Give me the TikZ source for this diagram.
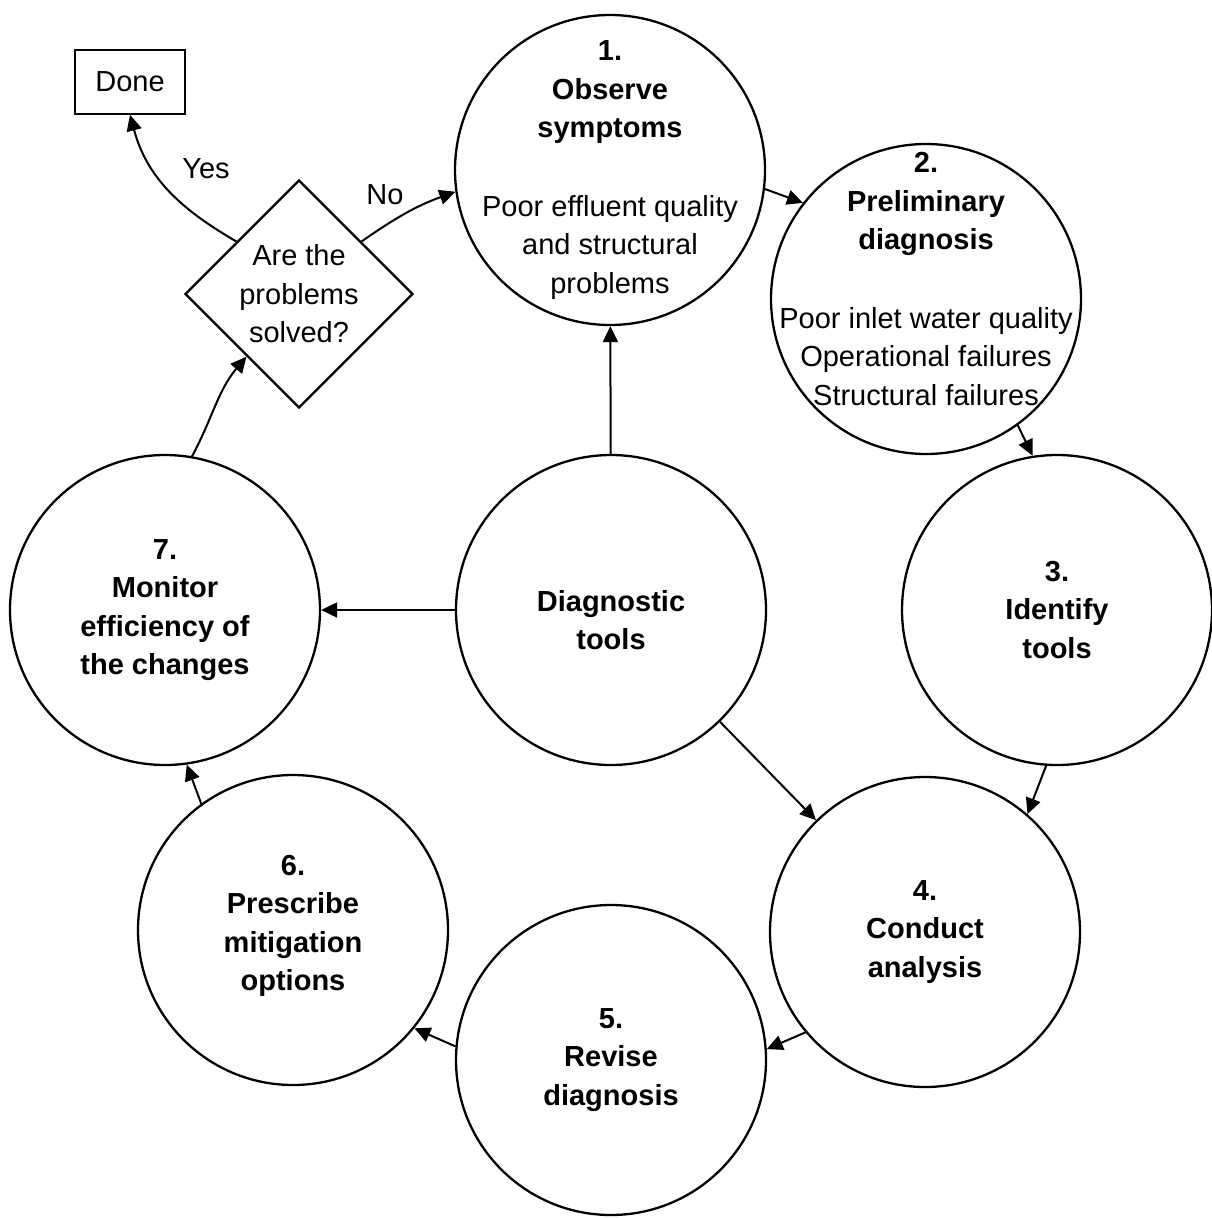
\documentclass[tikz,border=0pt]{standalone}
\usepackage{fontspec}
\setmainfont{Liberation Sans}
\usetikzlibrary{arrows.meta,shapes.geometric}
\tikzset{
    stage/.style={circle,draw=black,line width=2.3pt, minimum size=310pt, inner sep=0},
    stagetext/.style={align=center, inner sep=0},
    decision/.style={diamond,draw=black,line width=2.3pt, minimum width=228pt, minimum height=228pt, inner sep=0, align=center},
    endbox/.style={rectangle,draw=black,line width=1.5pt, minimum width=110pt, minimum height=64pt, inner sep=0},
    answer/.style={inner sep=0},
    flow/.style={line width=2pt, -{Triangle[length=16pt,width=15pt]}}
}

\begin{document}
\begin{tikzpicture}[x=1pt,y=-1pt, font=\fontsize{29}{38.5}\selectfont]
    \useasboundingbox (0,0) rectangle (1211,1218);

    % the cycle
    \node[stage] (observe) at (610,170) {};
    \node[stage] (prelim) at (926,299) {};
    \node[stage] (identify) at (1057,610) {};
    \node[stage] (conduct) at (925,932) {};
    \node[stage] (revise) at (611,1060) {};
    \node[stage] (prescribe) at (293,930) {};
    \node[stage] (monitor) at (165,610) {};
    \node[stage] (tools) at (611,610) {};

    \node[stagetext] (observe text) at (observe) {\textbf{1.}\\ \textbf{Observe}\\ \textbf{symptoms}\\[40pt] Poor effluent quality\\ and structural\\ problems};
    \node[stagetext] (prelim text) at ([yshift=20pt]prelim.center) {\textbf{2.}\\ \textbf{Preliminary}\\ \textbf{diagnosis}\\[40pt] Poor inlet water quality\\ Operational failures\\ Structural failures};
    \node[stagetext] (identify text) at (identify) {\textbf{3.}\\ \textbf{Identify}\\ \textbf{tools}};
    \node[stagetext] (conduct text) at (conduct) {\textbf{4.}\\ \textbf{Conduct}\\ \textbf{analysis}};
    \node[stagetext] (revise text) at (revise) {\textbf{5.}\\ \textbf{Revise}\\ \textbf{diagnosis}};
    \node[stagetext] (prescribe text) at ([yshift=4pt]prescribe.center) {\textbf{6.}\\ \textbf{Prescribe}\\ \textbf{mitigation}\\ \textbf{options}};
    \node[stagetext] (monitor text) at (monitor) {\textbf{7.}\\ \textbf{Monitor}\\ \textbf{efficiency of}\\ \textbf{the changes}};
    \node[stagetext] (tools text) at ([yshift=-10pt]tools.center) {\textbf{Diagnostic}\\ \textbf{tools}};

    % the check
    \node[decision] (solved) at (299,294) {Are the\\ problems\\ solved?};
    \node[endbox] (done) at (130,82) {Done};
    \node[answer] (yes) at (206,169) {Yes};
    \node[answer] (no) at (385,195) {No};

    \draw[flow] (observe.-7) -- (prelim.142);
    \draw[flow] (prelim.-54) -- (identify.99);
    \draw[flow] (identify.-94) -- (conduct.49);
    \draw[flow] (conduct.220) -- (revise.4);
    \draw[flow] (revise.175) -- (prescribe.-39);
    \draw[flow] (prescribe.126) -- (monitor.-82);
    \draw[flow] (tools) -- (observe);
    \draw[flow] (tools) -- (monitor);
    \draw[flow] (tools) -- (conduct);
    \draw[flow] (monitor.80) to[out=62,in=230] (solved.230);
    \draw[flow] (solved.140) to[out=150,in=-75] (done.south);
    \draw[flow] (solved.40) to[out=35,in=200] (observe.188);
\end{tikzpicture}
\end{document}
